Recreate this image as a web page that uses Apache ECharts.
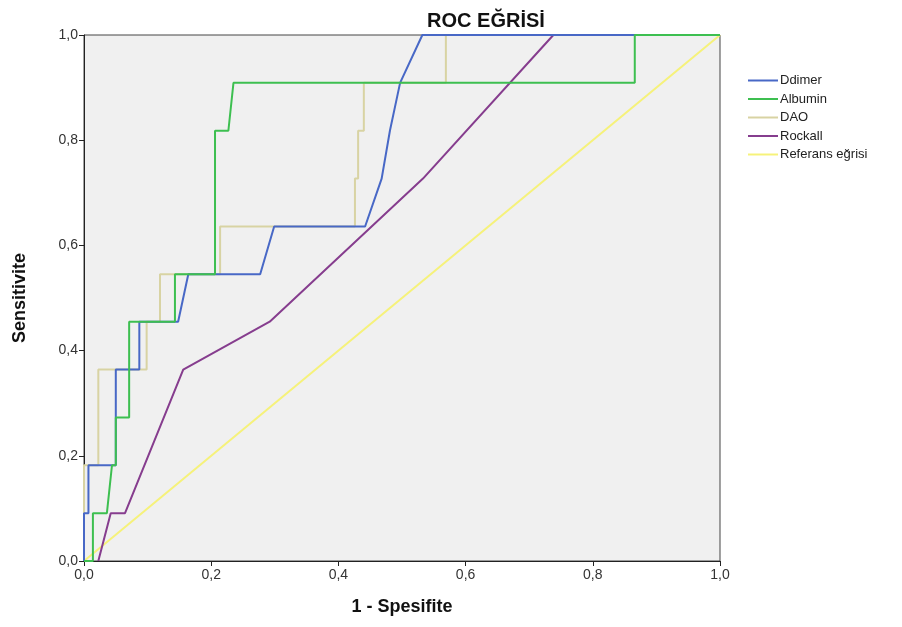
<!DOCTYPE html>
<html>
<head>
<meta charset="utf-8">
<script src="https://cdn.jsdelivr.net/npm/echarts@6/dist/echarts.min.js"></script>
<style>
  html, body { margin: 0; padding: 0; background: #fff; }
  #chart { width: 902px; height: 627px; }
</style>
</head>
<body>
<div id="chart"></div>
<script>
// 1 - Spesifite / Sensitivite points
const ddimerX = [0, 0, 0.007, 0.007, 0.05, 0.05, 0.087, 0.087, 0.148, 0.164, 0.277, 0.299, 0.442, 0.468, 0.481, 0.497, 0.532, 1];
const ddimerY = [0, 0.091, 0.091, 0.182, 0.182, 0.364, 0.364, 0.455, 0.455, 0.545, 0.545, 0.636, 0.636, 0.727, 0.818, 0.909, 1, 1];

const albuminX = [0, 0.014, 0.014, 0.036, 0.044, 0.05, 0.05, 0.071, 0.071, 0.143, 0.143, 0.206, 0.206, 0.227, 0.235, 0.866, 0.866, 1];
const albuminY = [0, 0, 0.091, 0.091, 0.182, 0.182, 0.273, 0.273, 0.455, 0.455, 0.545, 0.545, 0.818, 0.818, 0.909, 0.909, 1, 1];

const daoX = [0, 0, 0.0225, 0.0225, 0.0985, 0.0985, 0.1195, 0.1195, 0.214, 0.214, 0.426, 0.426, 0.431, 0.431, 0.44, 0.44, 0.569, 0.569, 1];
const daoY = [0, 0.182, 0.182, 0.364, 0.364, 0.455, 0.455, 0.545, 0.545, 0.636, 0.636, 0.727, 0.727, 0.818, 0.818, 0.909, 0.909, 1, 1];

const rockallX = [0.0225, 0.042, 0.0645, 0.156, 0.292, 0.533, 0.738, 1];
const rockallY = [0, 0.091, 0.091, 0.364, 0.455, 0.727, 1, 1];

const refX = [0, 1];
const refY = [0, 1];

const tickLabels = ['0,0', '0,2', '0,4', '0,6', '0,8', '1,0'];

const pairs = (xs, ys) => xs.map((x, i) => [x, ys[i]]);

const chart = echarts.init(document.getElementById('chart'));

const lineSeries = (name, xs, ys, color) => ({
    name: name,
    type: 'line',
    data: pairs(xs, ys),
    showSymbol: false,
    symbol: 'none',
    lineStyle: { color: color, width: 2 },
    itemStyle: { color: color },
    animation: false
});

const option = {
    backgroundColor: '#fff',
    title: {
        text: 'ROC EĞRİSİ',
        left: 481,
        top: 6,
        textAlign: 'center',
        textStyle: { fontFamily: 'Liberation Sans', fontSize: 20, fontWeight: 'bold', color: '#111' }
    },
    legend: {
        orient: 'vertical',
        left: 743,
        top: 69,
        icon: 'rect',
        itemWidth: 30,
        itemHeight: 2,
        itemGap: 5.5,
        textStyle: { fontFamily: 'Liberation Sans', fontSize: 13, color: '#222', padding: [0, 0, 0, -3] },
        data: ['Ddimer', 'Albumin', 'DAO', 'Rockall', 'Referans eğrisi']
    },
    grid: {
        left: 84,
        right: 182,
        top: 35,
        bottom: 66,
        containLabel: false,
        outerBoundsMode: 'none',
        show: true,
        backgroundColor: '#f0f0f0',
        borderColor: '#444',
        borderWidth: 1
    },
    xAxis: {
        type: 'value',
        min: 0,
        max: 1,
        interval: 0.2,
        name: '1 - Spesifite',
        nameLocation: 'middle',
        nameGap: 37,
        nameTextStyle: { fontFamily: 'Liberation Sans', fontSize: 18, fontWeight: 'bold', color: '#111' },
        axisLine: { lineStyle: { color: '#222', width: 1 } },
        axisTick: { show: true, length: 5, lineStyle: { color: '#222' } },
        axisLabel: {
            fontFamily: 'Liberation Sans', fontSize: 14, color: '#333', margin: 7,
            formatter: (v) => tickLabels[Math.round(v / 0.2)]
        },
        splitLine: { show: false }
    },
    yAxis: {
        type: 'value',
        min: 0,
        max: 1,
        interval: 0.2,
        name: 'Sensitivite',
        nameLocation: 'middle',
        nameGap: 55,
        nameTextStyle: { fontFamily: 'Liberation Sans', fontSize: 18, fontWeight: 'bold', color: '#111' },
        axisLine: { show: true, lineStyle: { color: '#222', width: 1 } },
        axisTick: { show: true, length: 5, lineStyle: { color: '#222' } },
        axisLabel: {
            fontFamily: 'Liberation Sans', fontSize: 14, color: '#333', margin: 6,
            formatter: (v) => tickLabels[Math.round(v / 0.2)]
        },
        splitLine: { show: false }
    },
    series: [
        lineSeries('Referans eğrisi', refX, refY, '#f6f27a'),
        lineSeries('Rockall', rockallX, rockallY, '#863d8e'),
        lineSeries('DAO', daoX, daoY, '#d8d3a3'),
        lineSeries('Ddimer', ddimerX, ddimerY, '#4868c6'),
        lineSeries('Albumin', albuminX, albuminY, '#3dbf50')
    ]
};

chart.setOption(option);
</script>
</body>
</html>
